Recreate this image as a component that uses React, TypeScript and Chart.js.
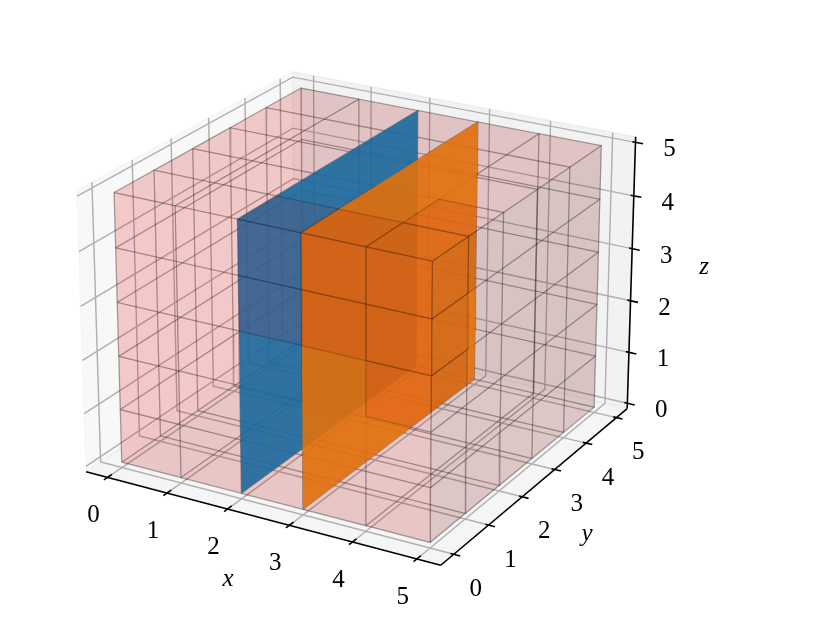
import React, { useEffect, useRef } from "react";
import { Chart, registerables } from "chart.js";
Chart.register(...registerables);

const TICKS = [0, 1, 2, 3, 4, 5];
const CELL_INDEX = [0, 1, 2, 3, 4];
const CUBE_MAX = 5;
const PANE_MIN = -0.365;
const PANE_MAX = 5.365;
const ZMIN = -0.104;
const ZMAX = 5.104;
const PLANE_X = [2, 3];
const PLANE_RGB = [[31, 119, 180], [255, 127, 14]];
const AXIS_NAMES = ["x", "y", "z"];

// Fitted camera: elevation, azimuth, distance, y box, z box, scale, y stretch, centre x, centre y.
const CAMERA = [21.9655, -60.1164, 9.429, 1.0041, 0.7803, 3306.8822, 1.0457, 362.2222, 303.4693];
// Depth weights (x, y, z) of the elev 30 / azim -60 view, used for painter ordering.
const DEPTH_WEIGHTS = [0.315, -0.545, 0.288];
const LIGHT = [-0.667, -0.667, 0.333];

function project(x: number, y: number, z: number) {
  const [el, az, D, by, bz, S, r, cx, cy] = CAMERA;
  const e = (el * Math.PI) / 180, a = (az * Math.PI) / 180;
  const dx = (x - 2.5) / 5, dy = ((y - 2.5) / 5) * by, dz = ((z - 2.5) / 5) * bz;
  const depth = Math.cos(e) * Math.cos(a) * dx + Math.cos(e) * Math.sin(a) * dy + Math.sin(e) * dz;
  const u = -Math.sin(a) * dx + Math.cos(a) * dy;
  const v = -Math.sin(e) * Math.cos(a) * dx - Math.sin(e) * Math.sin(a) * dy + Math.cos(e) * dz;
  const w = D - depth;
  return { x: cx + (S * u) / w, y: cy - (S * r * v) / w };
}
const closeness = (q: number[]) => q[0] * DEPTH_WEIGHTS[0] + q[1] * DEPTH_WEIGHTS[1] + q[2] * DEPTH_WEIGHTS[2];
const shade = (n: number[]) => 0.3 + (0.7 * (n[0] * LIGHT[0] + n[1] * LIGHT[1] + n[2] * LIGHT[2] + 1)) / 2;

export default function App() {
  const ref = useRef<HTMLCanvasElement>(null);
  useEffect(() => {
    const P = project;
    const ds: any[] = [];
    const base = { showLine: true, pointRadius: 0, tension: 0 };
    const line = (pts: any[], color: string, w = 1.44) => ds.push({ ...base, data: pts, borderColor: color, borderWidth: w, fill: false });
    const poly = (pts: any[], fill: string, stroke: string, w: number) => ds.push({ ...base, data: [...pts, pts[0]], borderColor: stroke, borderWidth: w, backgroundColor: fill, fill: "shape" });
    const a = PANE_MIN, b = PANE_MAX, zl = ZMIN, zh = ZMAX, m = CUBE_MAX;
    const pX = "rgba(242,242,242,0.5)", pY = "rgba(230,230,230,0.5)", pZ = "rgba(236,236,236,0.5)";
    poly([P(a,a,zl),P(a,b,zl),P(a,b,zh),P(a,a,zh)], pX, pX, 1.44);
    poly([P(a,b,zl),P(b,b,zl),P(b,b,zh),P(a,b,zh)], pY, pY, 1.44);
    poly([P(a,a,zl),P(b,a,zl),P(b,b,zl),P(a,b,zl)], pZ, pZ, 1.44);
    const grid = "#b0b0b0";
    for (const t of TICKS) {
      line([P(t,a,zl),P(t,b,zl),P(t,b,zh)], grid);
      line([P(b,t,zl),P(a,t,zl),P(a,t,zh)], grid);
      line([P(a,a,t),P(a,b,t),P(b,b,t)], grid);
    }
    line([P(a,a,zl),P(b,a,zl)], "#000", 1.6);
    line([P(b,a,zl),P(b,b,zl)], "#000", 1.6);
    line([P(b,b,zl),P(b,b,zh)], "#000", 1.6);
    for (const t of TICKS) {
      line([P(t,a-0.09,zl),P(t,a+0.11,zl)], "#000", 1.6);
      line([P(b-0.05,t,zl),P(b+0.1,t,zl)], "#000", 1.6);
      line([P(b-0.05,b,t),P(b+0.12,b,t)], "#000", 1.6);
    }
    const items: { d: number; draw: () => void }[] = [];
    const edge = "rgba(0,0,0,0.19)";
    const addCell = (v: number[][], n: number[]) => {
      const d = Math.max(...v.map(closeness));
      const fill = `rgba(${255 * shade(n)},0,0,0.1)`;
      items.push({ d, draw: () => poly(v.map((q) => P(q[0], q[1], q[2])), fill, edge, 1.25) });
    };
    for (const i of CELL_INDEX) for (const j of CELL_INDEX) {
      addCell([[0,i,j],[0,i+1,j],[0,i+1,j+1],[0,i,j+1]], [-1,0,0]);
      addCell([[m,i,j],[m,i+1,j],[m,i+1,j+1],[m,i,j+1]], [1,0,0]);
      addCell([[i,0,j],[i+1,0,j],[i+1,0,j+1],[i,0,j+1]], [0,-1,0]);
      addCell([[i,m,j],[i+1,m,j],[i+1,m,j+1],[i,m,j+1]], [0,1,0]);
      addCell([[i,j,0],[i+1,j,0],[i+1,j+1,0],[i,j+1,0]], [0,0,-1]);
      addCell([[i,j,m],[i+1,j,m],[i+1,j+1,m],[i,j+1,m]], [0,0,1]);
    }
    PLANE_X.forEach((x, k) => {
      const s = shade([-1, 0, 0]);
      const col = `rgba(${PLANE_RGB[k].map((q) => q * s).join(",")},0.9)`;
      const v = [[x,0,0],[x,m,0],[x,m,m],[x,0,m]];
      const d = Math.max(...v.map(closeness));
      items.push({ d, draw: () => poly(v.map((q) => P(q[0], q[1], q[2])), col, "rgba(0,0,0,0)", 0) });
    });
    items.sort((p, q) => p.d - q.d);
    items.forEach((it) => it.draw());
    const labels = {
      id: "labels",
      afterDraw(chart: any) {
        const g = chart.ctx;
        g.save();
        g.fillStyle = "#000";
        g.textAlign = "center";
        g.textBaseline = "middle";
        g.font = "25px 'Liberation Serif'";
        for (const t of TICKS) {
          let q = P(t, a, zl); g.fillText(String(t), q.x - 14, q.y + 38);
          q = P(b, t, zl); g.fillText(String(t), q.x + 22, q.y + 35);
          q = P(b, b, t); g.fillText(String(t), q.x + 34, q.y + 7.5);
        }
        g.font = "italic 25px 'Liberation Serif'";
        g.fillText(AXIS_NAMES[0], 228, 579);
        g.fillText(AXIS_NAMES[1], 587, 534);
        g.fillText(AXIS_NAMES[2], 704, 267);
        g.restore();
      },
    };
    const chart = new Chart(ref.current!, {
      type: "scatter",
      data: { datasets: ds.reverse() },
      options: {
        responsive: false,
        animation: false,
        events: [],
        layout: { padding: 0 },
        scales: {
          x: { type: "linear", min: 0, max: 832, display: false },
          y: { type: "linear", min: 0, max: 624, reverse: true, display: false },
        },
        plugins: { legend: { display: false }, tooltip: { enabled: false } },
      },
      plugins: [labels],
    } as any);
    return () => chart.destroy();
  }, []);
  return <canvas ref={ref} width={832} height={624} style={{ position: "absolute", left: 0, top: 0, display: "block", filter: "blur(0.5px)" }} />;
}
